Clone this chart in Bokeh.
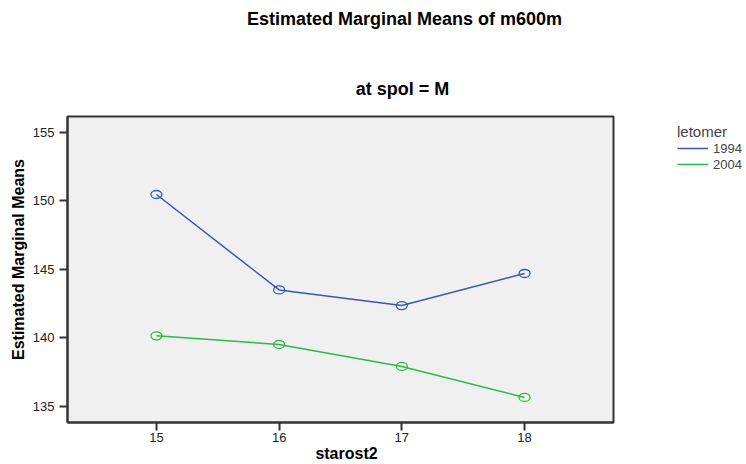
import math
from bokeh.plotting import figure
from bokeh.models import Range1d, FixedTicker, Legend, LegendItem, ColumnDataSource, Label
from bokeh.embed import file_html
from bokeh.resources import INLINE

starost2 = [15, 16, 17, 18]
m1994 = [150.46, 143.5, 142.36, 144.7]
m2004 = [140.15, 139.52, 137.92, 135.66]
y_ticks = [135, 140, 145, 150, 155]
series_names = ["1994", "2004"]
colors = ["#3a55b4", "#2db84a"]

# axis extents of the plotting box (data units)
X_LO, X_HI = 14.275, 18.725
Y_LO, Y_HI = 133.83, 156.15

FONT = "Liberation Sans"
W, H = 746, 464
BOX_LEFT, BOX_TOP, BOX_W, BOX_H = 67, 116, 546, 306   # grey box in page pixels
dx = (X_HI - X_LO) / BOX_W
dy = (Y_HI - Y_LO) / BOX_H
x_start = X_LO - BOX_LEFT * dx
x_end = X_LO + (W - BOX_LEFT) * dx
y_start = Y_LO - (H - BOX_TOP - BOX_H) * dy
y_end = Y_HI + BOX_TOP * dy

p = figure(width=W, height=H, output_backend="svg", toolbar_location=None,
           x_range=Range1d(x_start, x_end), y_range=Range1d(y_start, y_end),
           min_border_left=0, min_border_right=0, min_border_top=0, min_border_bottom=0)
p.background_fill_color = "white"
p.border_fill_color = "white"
p.outline_line_color = None
p.xgrid.visible = False
p.ygrid.visible = False

p.quad(left=[X_LO], right=[X_HI], bottom=[Y_LO], top=[Y_HI], fill_color="#f0f0f0",
       line_color="#333333", line_width=2)

for ax in (p.xaxis[0], p.yaxis[0]):
    ax.axis_line_color = "#333333"
    ax.axis_line_width = 2
    ax.major_tick_line_color = "#333333"
    ax.major_tick_line_width = 2
    ax.major_tick_out = 8
    ax.major_tick_in = 0
    ax.minor_tick_line_color = None
    ax.major_label_text_font = FONT
    ax.major_label_text_font_size = "13px"
    ax.major_label_text_color = "#222222"

p.xaxis.fixed_location = Y_LO
p.yaxis.fixed_location = X_LO
p.xaxis.bounds = (X_LO, X_HI)
p.yaxis.bounds = (Y_LO, Y_HI)
p.xaxis.ticker = FixedTicker(ticks=starost2)
p.yaxis.ticker = FixedTicker(ticks=y_ticks)
p.xaxis.major_label_standoff = 2
p.yaxis.major_label_standoff = 5

items = []
for name, vals, c in zip(series_names, [m1994, m2004], colors):
    src = ColumnDataSource(dict(x=starost2, y=vals))
    r = p.line("x", "y", source=src, line_color=c, line_width=1.5)
    p.ellipse("x", "y", source=src, width=11, height=8, width_units="screen",
              height_units="screen", fill_color=None, line_color=c, line_width=1.3)
    items.append(LegendItem(label=name, renderers=[r]))

legend = Legend(items=items, location=(677, 292), padding=0, margin=0, spacing=0,
                glyph_width=31, glyph_height=16, label_height=16, label_standoff=5,
                label_text_font=FONT, label_text_font_size="13px",
                title="letomer", title_text_font=FONT, title_text_font_size="15px",
                title_text_font_style="normal", title_standoff=0,
                border_line_color=None, background_fill_alpha=0)
p.add_layout(legend, "center")


def text_label(x, y, text, size, angle=0.0):
    return Label(x=x, y=y, x_units="screen", y_units="screen", text=text,
                 text_font=FONT, text_font_size=size, text_font_style="bold",
                 text_baseline="middle", text_align="center", text_color="black",
                 angle=angle)


p.add_layout(text_label(404, 446, "Estimated Marginal Means of m600m", "18px"))
p.add_layout(text_label(402, 376, "at spol = M", "18px"))
p.add_layout(text_label(346, 11, "starost2", "16px"))
p.add_layout(text_label(18, 205, "Estimated Marginal Means", "16px", math.pi / 2))

open("out.html", "w").write(file_html(p, INLINE))
